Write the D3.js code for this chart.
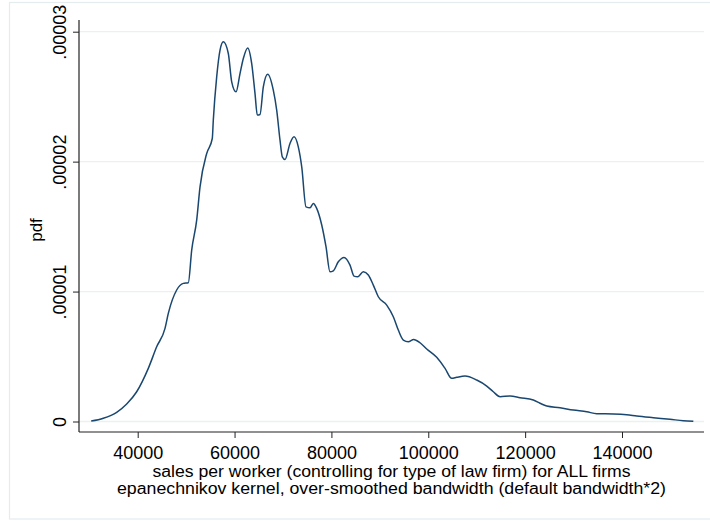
<!DOCTYPE html>
<html>
<head>
<meta charset="utf-8">
<script src="https://cdn.jsdelivr.net/npm/d3@7/dist/d3.min.js"></script>
<style>
  html, body { margin: 0; padding: 0; background: #fff; }
  svg { display: block; }
  text { font-family: "Liberation Sans", Arial, sans-serif; fill: #000; }
</style>
</head>
<body>
<svg id="chart" width="710" height="521"></svg>
<script>
// Kernel density estimate of sales per worker (Epanechnikov kernel, bandwidth x2)
const salesPerWorker = [
  30400, 32900, 35660, 37730, 39790, 42190, 43920, 45640, 46320, 48050,
  49420, 50450, 51150, 52180, 52870, 54250, 55400, 55610, 56310, 57000,
  57680, 58710, 59410, 60300, 61125, 61810, 62715, 63540, 64220, 64700,
  65255, 65940, 66845, 68000, 68700, 69385, 69860, 70420, 71450, 72280,
  73160, 73870, 74750, 75580, 76260, 76960, 78000, 78880, 79710, 80390,
  81420, 82600, 83840, 84670, 85430, 86590, 87620, 88650, 89680, 91420,
  92780, 93810, 94850, 95880, 96990, 98300, 99680, 101740, 103460, 104840,
  105870, 107590, 110000, 112070, 113430, 114820, 116880, 118950, 121690, 123080,
  124460, 127200, 129950, 132720, 134780, 138210, 140980, 143040, 146470, 149920,
  152670, 154730
];
const density = [
  0.03e-6, 0.25e-6, 0.71e-6, 1.35e-6, 2.29e-6, 4.09e-6, 5.75e-6, 7.17e-6, 8.32e-6, 10.12e-6,
  10.63e-6, 10.68e-6, 13.19e-6, 15.50e-6, 18.06e-6, 20.63e-6, 21.78e-6, 23.19e-6, 26.52e-6, 28.58e-6,
  29.22e-6, 28.32e-6, 26.14e-6, 25.37e-6, 26.78e-6, 27.94e-6, 28.75e-6, 27.55e-6, 25.25e-6, 23.58e-6,
  23.63e-6, 25.75e-6, 26.73e-6, 25.50e-6, 23.96e-6, 21.65e-6, 20.37e-6, 20.17e-6, 21.40e-6, 21.91e-6,
  21.14e-6, 19.60e-6, 16.52e-6, 16.45e-6, 16.78e-6, 16.40e-6, 15.12e-6, 13.45e-6, 11.52e-6, 11.60e-6,
  12.29e-6, 12.63e-6, 12.04e-6, 11.19e-6, 11.14e-6, 11.52e-6, 11.27e-6, 10.50e-6, 9.60e-6, 8.96e-6,
  8.06e-6, 7.04e-6, 6.27e-6, 6.14e-6, 6.32e-6, 6.06e-6, 5.58e-6, 4.94e-6, 4.09e-6, 3.32e-6,
  3.40e-6, 3.50e-6, 3.19e-6, 2.73e-6, 2.29e-6, 1.91e-6, 1.96e-6, 1.83e-6, 1.65e-6, 1.40e-6,
  1.19e-6, 1.06e-6, 0.88e-6, 0.75e-6, 0.60e-6, 0.58e-6, 0.52e-6, 0.42e-6, 0.29e-6, 0.17e-6,
  0.06e-6, 0.02e-6
];
const xTicks = [40000, 60000, 80000, 100000, 120000, 140000];
const yTicks = [0, 0.00001, 0.00002, 0.00003];
const yTickLabels = ["0", ".00001", ".00002", ".00003"];
const xTitleLines = [
  "sales per worker (controlling for type of law firm) for ALL firms",
  "epanechnikov kernel, over-smoothed bandwidth (default bandwidth*2)"
];
const yTitle = "pdf";

const points = salesPerWorker.map((v, i) => ({ x: v, y: density[i] }));

const svg = d3.select("#chart");
const plot = { left: 79, right: 704, top: 20, bottom: 432 };

const x = d3.scaleLinear().domain([40000, 140000]).range([137.7, 622]);
const y = d3.scaleLinear().domain([0, 0.00003]).range([421.5, 31.7]);

// outer graph frame
svg.append("rect")
  .attr("x", 9.5).attr("y", 2.5)
  .attr("width", 730).attr("height", 516.5)
  .attr("fill", "none").attr("stroke", "#e4ecee").attr("stroke-width", 1.2);

// horizontal gridlines
svg.append("g").selectAll("line").data(yTicks).join("line")
  .attr("x1", plot.left).attr("x2", plot.right)
  .attr("y1", d => y(d)).attr("y2", d => y(d))
  .attr("stroke", "#eaf1f2").attr("stroke-width", 1.3);

// y axis
const yAxis = svg.append("g")
  .attr("transform", `translate(${plot.left},0)`)
  .call(d3.axisLeft(y).tickValues(yTicks).tickSize(6).tickFormat((d, i) => yTickLabels[i]));
yAxis.select(".domain").remove();
yAxis.selectAll(".tick line").attr("stroke", "#222");
yAxis.selectAll(".tick text")
  .attr("font-size", 18)
  .attr("font-family", "Liberation Sans, Arial, sans-serif")
  .attr("fill", "#000")
  .attr("text-anchor", "middle")
  .attr("x", 0).attr("y", 0).attr("dy", null)
  .attr("transform", "translate(-13.3,0) rotate(-90)");
svg.append("line")
  .attr("x1", plot.left).attr("x2", plot.left)
  .attr("y1", plot.top).attr("y2", plot.bottom)
  .attr("stroke", "#222").attr("stroke-width", 1.2);

// x axis
const xAxis = svg.append("g")
  .attr("transform", `translate(0,${plot.bottom})`)
  .call(d3.axisBottom(x).tickValues(xTicks).tickSize(6).tickFormat(d3.format("d")));
xAxis.select(".domain").remove();
xAxis.selectAll(".tick line").attr("stroke", "#222");
xAxis.selectAll(".tick text")
  .attr("font-size", 18)
  .attr("font-family", "Liberation Sans, Arial, sans-serif")
  .attr("fill", "#000")
  .attr("dy", null)
  .attr("y", 27);
svg.append("line")
  .attr("x1", plot.left).attr("x2", plot.right)
  .attr("y1", plot.bottom).attr("y2", plot.bottom)
  .attr("stroke", "#222").attr("stroke-width", 1.2);

// axis titles
const titleLengths = [478, 549];
svg.append("g").selectAll("text").data(xTitleLines).join("text")
  .attr("x", (plot.left + plot.right) / 2)
  .attr("y", (d, i) => 477.3 + i * 16.8)
  .attr("text-anchor", "middle")
  .attr("font-size", 16)
  .attr("textLength", (d, i) => titleLengths[i])
  .attr("lengthAdjust", "spacingAndGlyphs")
  .text(d => d);

svg.append("text")
  .attr("transform", "translate(42,230) rotate(-90)")
  .attr("text-anchor", "middle")
  .attr("font-size", 17)
  .text(yTitle);

// density curve
const line = d3.line()
  .x(d => x(d.x))
  .y(d => y(d.y))
  .curve(d3.curveMonotoneX);

svg.append("path")
  .datum(points)
  .attr("d", line)
  .attr("fill", "none")
  .attr("stroke", "#1a476f")
  .attr("stroke-width", 1.5)
  .attr("stroke-linejoin", "round");
</script>
</body>
</html>
